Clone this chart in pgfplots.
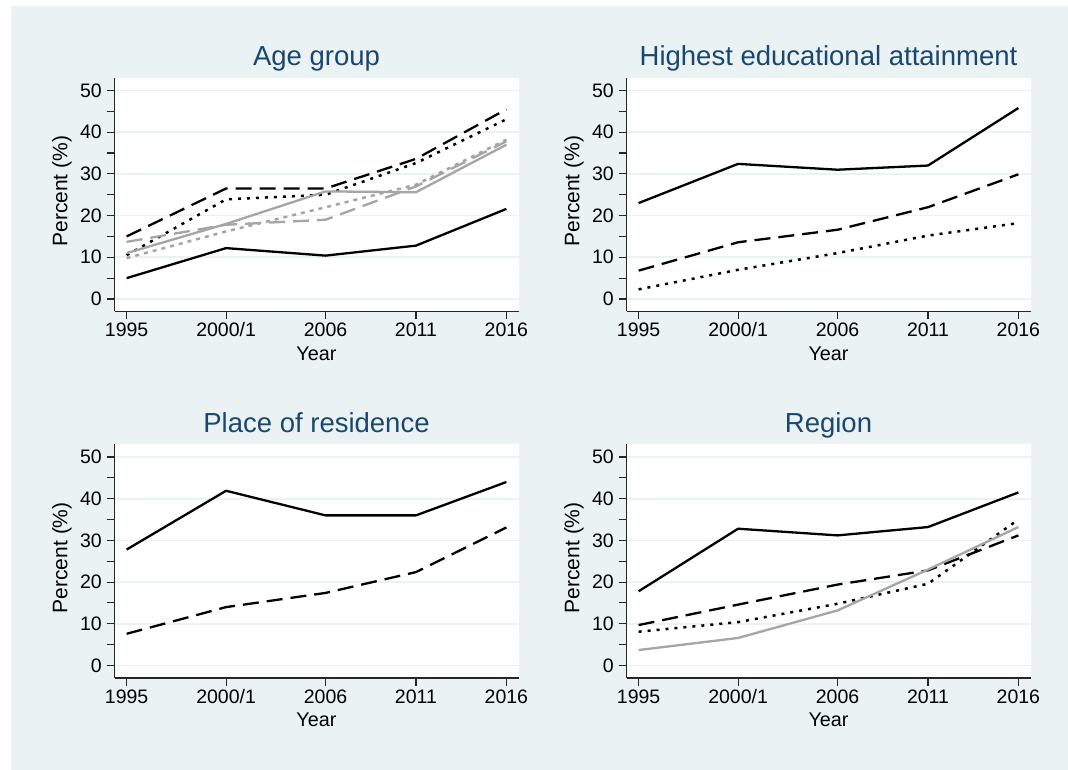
\documentclass[border=0pt]{standalone}
\usepackage{fontspec}
\setmainfont{Liberation Sans}
\usepackage{pgfplots}
\pgfplotsset{compat=1.18}
\definecolor{bgc}{RGB}{234,242,243}
\definecolor{gridc}{RGB}{234,242,243}
\definecolor{titlec}{RGB}{26,71,111}
\definecolor{lgray}{RGB}{165,165,165}
\pgfplotsset{
  panel/.style={
    scale only axis, width=404pt, height=233.5pt, anchor=south west,
    xmin=1994.33, xmax=2016.67, ymin=-3, ymax=53,
    xtick={1995,2000.5,2006,2011,2016},
    xticklabels={1995,2000/1,2006,2011,2016},
    ytick={0,10,20,30,40,50},
    minor y tick num=1,
    axis x line*=bottom, axis y line*=left,
    axis line style={-, black!85, line width=1.2pt},
    tick align=outside,
    major tick length=8pt, minor tick length=8pt,
    tick style={black!85, line width=1.1pt},
    ymajorgrids, grid style={gridc, line width=1.6pt},
    axis background/.style={fill=white},
    /pgf/number format/assume math mode=true,
    ticklabel style={font=\fontsize{19.5}{22}\selectfont},
    yticklabel style={anchor=east, inner sep=0pt, xshift=-4.5pt},
    xticklabel style={anchor=base, inner sep=0pt, yshift=-17.5pt},
    title style={at={(axis description cs:0.5,1)}, anchor=base, inner sep=0pt, yshift=6.3pt, font=\fontsize{27.5}{30}\selectfont, text=titlec},
    xlabel={Year},
    xlabel style={at={(axis description cs:0.5,0)}, anchor=base, inner sep=0pt, yshift=-49pt, font=\fontsize{19.8}{22}\selectfont},
    ylabel={Percent (\%)},
    ylabel style={at={(axis description cs:-0.13,0.515)}, anchor=center, inner sep=0pt, font=\fontsize{21}{24}\selectfont},
    clip=false,
  },
  bs/.style={black, line width=2.3pt, line join=round},
  bd/.style={black, line width=2.3pt, dash pattern=on 16pt off 8pt},
  bt/.style={black, line width=2.5pt, dash pattern=on 3pt off 6pt},
  gs/.style={lgray, line width=2.3pt, line join=round},
  gd/.style={lgray, line width=2.3pt, dash pattern=on 16pt off 8pt},
  gt/.style={lgray, line width=2.5pt, dash pattern=on 4pt off 5pt},
}
\begin{document}
\begin{tikzpicture}
\fill[white] (0,0) rectangle (1068pt,770pt);
\fill[bgc] (11pt,0) rectangle (1068pt,764pt);

\begin{axis}[panel, at={(114.5pt,458.5pt)}, title={Age group}]
\addplot[bs] coordinates {(1995,5.0) (2000.5,12.2) (2006,10.4) (2011,12.8) (2016,21.6)};
\addplot[bd] coordinates {(1995,15.0) (2000.5,26.5) (2006,26.5) (2011,33.6) (2016,45.5)};
\addplot[bt] coordinates {(1995,10.5) (2000.5,23.9) (2006,25.0) (2011,32.6) (2016,43.1)};
\addplot[gs] coordinates {(1995,11.0) (2000.5,18.0) (2006,25.8) (2011,25.6) (2016,37.0)};
\addplot[gd] coordinates {(1995,13.7) (2000.5,17.8) (2006,19.0) (2011,27.0) (2016,37.8)};
\addplot[gt] coordinates {(1995,9.8) (2000.5,16.2) (2006,22.0) (2011,27.4) (2016,38.2)};
\end{axis}

\begin{axis}[panel, at={(626.5pt,458.5pt)}, title={Highest educational attainment}]
\addplot[bs] coordinates {(1995,23.0) (2000.5,32.4) (2006,31.0) (2011,32.0) (2016,45.8)};
\addplot[bd] coordinates {(1995,6.8) (2000.5,13.6) (2006,16.6) (2011,22.0) (2016,29.9)};
\addplot[bt] coordinates {(1995,2.3) (2000.5,7.0) (2006,11.0) (2011,15.2) (2016,18.2)};
\end{axis}

\begin{axis}[panel, at={(114.5pt,92pt)}, title={Place of residence}]
\addplot[bs] coordinates {(1995,27.8) (2000.5,41.9) (2006,36.0) (2011,36.0) (2016,44.0)};
\addplot[bd] coordinates {(1995,7.6) (2000.5,14.0) (2006,17.4) (2011,22.4) (2016,33.1)};
\end{axis}

\begin{axis}[panel, at={(626.5pt,92pt)}, title={Region}]
\addplot[bs] coordinates {(1995,17.8) (2000.5,32.8) (2006,31.2) (2011,33.2) (2016,41.5)};
\addplot[bd] coordinates {(1995,9.7) (2000.5,14.6) (2006,19.4) (2011,22.8) (2016,31.2)};
\addplot[bt] coordinates {(1995,8.1) (2000.5,10.4) (2006,14.8) (2011,19.6) (2016,35.0)};
\addplot[gs] coordinates {(1995,3.7) (2000.5,6.6) (2006,13.2) (2011,23.0) (2016,33.2)};
\end{axis}
\end{tikzpicture}
\end{document}
